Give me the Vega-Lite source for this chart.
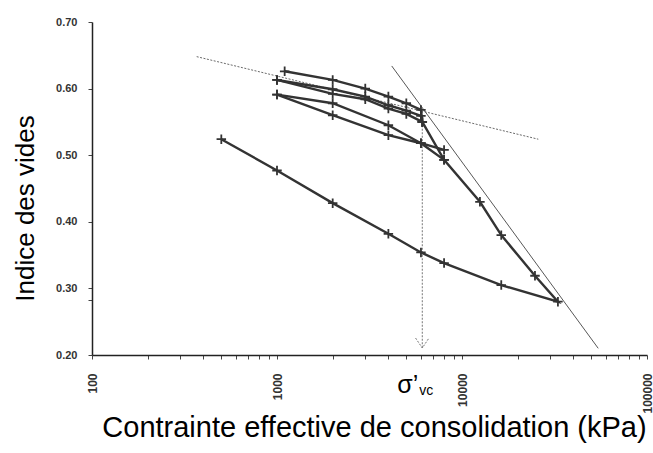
{
  "$schema": "https://vega.github.io/schema/vega-lite/v6.json",
  "width": 555,
  "height": 333,
  "autosize": {"type": "none"},
  "padding": {"left": 92, "top": 22, "right": 6, "bottom": 98},
  "background": "white",
  "config": {"view": {"stroke": null}, "font": "Liberation Sans"},
  "datasets": {
    "curves": [
      {"c": "C1", "i": 1, "x": 1100, "e": 0.626},
      {"c": "C1", "i": 2, "x": 2000, "e": 0.613},
      {"c": "C1", "i": 3, "x": 3000, "e": 0.600},
      {"c": "C1", "i": 4, "x": 4000, "e": 0.588},
      {"c": "C1", "i": 5, "x": 5000, "e": 0.578},
      {"c": "C1", "i": 6, "x": 6000, "e": 0.568},
      {"c": "C1", "i": 7, "x": 6100, "e": 0.550},
      {"c": "C1", "i": 8, "x": 8000, "e": 0.493},
      {"c": "C1", "i": 9, "x": 12500, "e": 0.430},
      {"c": "C1", "i": 10, "x": 16300, "e": 0.380},
      {"c": "C1", "i": 11, "x": 24800, "e": 0.319},
      {"c": "C1", "i": 12, "x": 33000, "e": 0.280},
      {"c": "C1", "i": 13, "x": 16300, "e": 0.305},
      {"c": "C1", "i": 14, "x": 8000, "e": 0.338},
      {"c": "C1", "i": 15, "x": 6000, "e": 0.354},
      {"c": "C1", "i": 16, "x": 4000, "e": 0.382},
      {"c": "C1", "i": 17, "x": 2000, "e": 0.428},
      {"c": "C1", "i": 18, "x": 1000, "e": 0.477},
      {"c": "C1", "i": 19, "x": 500, "e": 0.524},
      {"c": "C2", "i": 1, "x": 1000, "e": 0.613},
      {"c": "C2", "i": 2, "x": 2000, "e": 0.599},
      {"c": "C2", "i": 3, "x": 3000, "e": 0.588},
      {"c": "C2", "i": 4, "x": 4000, "e": 0.575},
      {"c": "C2", "i": 5, "x": 5000, "e": 0.567},
      {"c": "C2", "i": 6, "x": 6000, "e": 0.559},
      {"c": "C2", "i": 7, "x": 6100, "e": 0.550},
      {"c": "C3", "i": 1, "x": 1000, "e": 0.613},
      {"c": "C3", "i": 2, "x": 2000, "e": 0.592},
      {"c": "C3", "i": 3, "x": 3000, "e": 0.584},
      {"c": "C3", "i": 4, "x": 4000, "e": 0.570},
      {"c": "C3", "i": 5, "x": 5000, "e": 0.562},
      {"c": "C3", "i": 6, "x": 6100, "e": 0.550},
      {"c": "C4", "i": 1, "x": 1000, "e": 0.591},
      {"c": "C4", "i": 2, "x": 2000, "e": 0.578},
      {"c": "C4", "i": 3, "x": 4000, "e": 0.545},
      {"c": "C4", "i": 4, "x": 6000, "e": 0.518},
      {"c": "C4", "i": 5, "x": 8000, "e": 0.508},
      {"c": "C5", "i": 1, "x": 1000, "e": 0.591},
      {"c": "C5", "i": 2, "x": 2000, "e": 0.560},
      {"c": "C5", "i": 3, "x": 4000, "e": 0.530},
      {"c": "C5", "i": 4, "x": 6000, "e": 0.518},
      {"c": "C5", "i": 5, "x": 8000, "e": 0.493}
    ],
    "guides": [
      {"g": "flat", "i": 1, "x": 368, "e": 0.648},
      {"g": "flat", "i": 2, "x": 25850, "e": 0.524},
      {"g": "steep", "i": 1, "x": 4170, "e": 0.634},
      {"g": "steep", "i": 2, "x": 54500, "e": 0.210},
      {"g": "drop", "i": 1, "x": 6100, "e": 0.566},
      {"g": "drop", "i": 2, "x": 6100, "e": 0.2105},
      {"g": "head", "i": 1, "x": 5610, "e": 0.2255},
      {"g": "head", "i": 2, "x": 6100, "e": 0.2105},
      {"g": "head", "i": 3, "x": 6630, "e": 0.2255}
    ],
    "sigma": [{"x": 6100, "e": 0.2}]
  },
  "encoding": {
    "x": {
      "field": "x", "type": "quantitative",
      "scale": {"type": "log", "domain": [100, 100000], "nice": false},
      "axis": {
        "values": [100, 200, 300, 400, 500, 600, 700, 800, 900, 1000, 2000, 3000, 4000, 5000, 6000, 7000, 8000, 9000, 10000, 20000, 30000, 40000, 50000, 60000, 70000, 80000, 90000, 100000],
        "format": "d",
        "labelExpr": "indexof([100, 1000, 10000, 100000], datum.value) >= 0 ? datum.label : ''",
        "labelAngle": 270,
        "labelFontSize": 12,
        "labelFontWeight": "bold",
        "labelColor": "#333",
        "labelPadding": 14,
        "labelFlush": false,
        "labelOverlap": false,
        "tickSize": 4,
        "tickColor": "#444",
        "domainColor": "#222",
        "domainWidth": 1.5,
        "grid": false,
        "title": "Contrainte effective de consolidation (kPa)",
        "titleFontSize": 29,
        "titleFontWeight": "normal",
        "titleColor": "#000",
        "titleBaseline": "alphabetic",
        "titleY": 81,
        "titleX": 282,
        "titleAlign": "center"
      }
    },
    "y": {
      "field": "e", "type": "quantitative",
      "scale": {"domain": [0.2, 0.7], "nice": false, "zero": false},
      "axis": {
        "values": [0.2, 0.283, 0.3, 0.4, 0.5, 0.6, 0.7],
        "format": ".2f",
        "labelExpr": "datum.value === 0.283 ? '' : datum.label",
        "labelFontSize": 11,
        "labelFontWeight": "bold",
        "labelColor": "#333",
        "labelPadding": 11,
        "tickSize": 4,
        "tickColor": "#444",
        "domainColor": "#222",
        "domainWidth": 1.5,
        "grid": false,
        "title": "Indice des vides",
        "titleFontSize": 26,
        "titleFontWeight": "normal",
        "titleColor": "#000",
        "titleAngle": 270,
        "titleBaseline": "alphabetic",
        "titleAlign": "center",
        "titleX": -59,
        "titleY": 186
      }
    }
  },
  "layer": [
    {
      "data": {"name": "guides"},
      "transform": [{"filter": "datum.g === 'flat'"}],
      "mark": {"type": "line", "color": "#444", "strokeWidth": 0.8, "strokeDash": [2, 1.5]},
      "encoding": {"order": {"field": "i"}}
    },
    {
      "data": {"name": "guides"},
      "transform": [{"filter": "datum.g === 'steep'"}],
      "mark": {"type": "line", "color": "#444", "strokeWidth": 0.9},
      "encoding": {"order": {"field": "i"}}
    },
    {
      "data": {"name": "guides"},
      "transform": [{"filter": "datum.g === 'drop' || datum.g === 'head'"}],
      "mark": {"type": "line", "color": "#666", "strokeWidth": 0.9, "strokeDash": [2, 1.5]},
      "encoding": {"detail": {"field": "g"}, "order": {"field": "i"}}
    },
    {
      "data": {"name": "curves"},
      "mark": {"type": "line", "color": "#333", "strokeWidth": 2.4},
      "encoding": {"detail": {"field": "c"}, "order": {"field": "i"}}
    },
    {
      "data": {"name": "curves"},
      "mark": {"type": "point", "shape": "M-1,0L1,0M0,-1L0,1", "size": 90, "filled": false, "stroke": "#333", "strokeWidth": 1.8, "opacity": 1},
      "encoding": {}
    },
    {
      "data": {"name": "sigma"},
      "mark": {"type": "text", "text": "σ’", "fontSize": 25, "align": "left", "baseline": "alphabetic", "dx": -25, "dy": 38, "color": "#000"},
      "encoding": {}
    },
    {
      "data": {"name": "sigma"},
      "mark": {"type": "text", "text": "vc", "fontSize": 14, "align": "left", "baseline": "alphabetic", "dx": -3, "dy": 40, "color": "#000"},
      "encoding": {}
    }
  ]
}
